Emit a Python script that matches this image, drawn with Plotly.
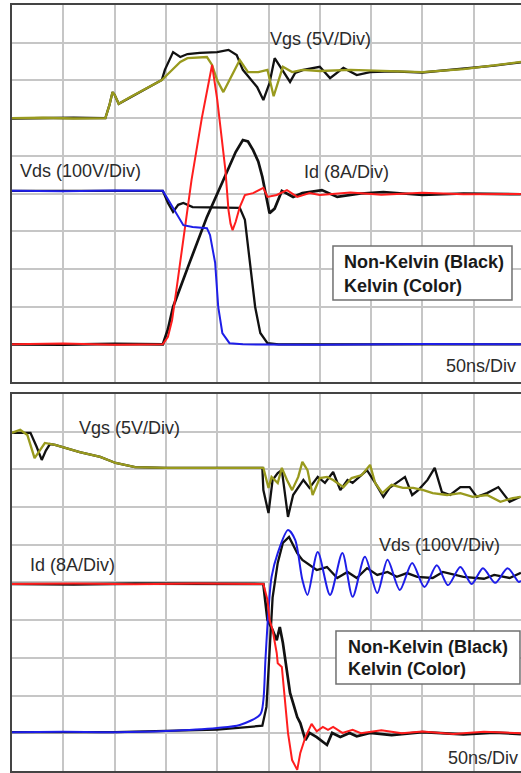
import plotly.graph_objects as go

# ---------------- data (time in ns, 50 ns/div; values in screen divisions) ----------------
# Top panel: turn-on
on_vgs_nk_t = [0, 30, 60, 91, 95, 98, 100, 104, 115, 130, 146, 149, 157, 164, 171, 183, 200, 211, 219, 225, 232, 239, 245, 251, 256, 263, 271, 276, 284, 300, 310, 323, 336, 349, 370, 400, 440, 470, 496]
on_vgs_nk = [6.99, 7.00, 7.01, 7.00, 7.35, 7.69, 7.62, 7.38, 7.55, 7.78, 8.01, 8.28, 8.75, 8.62, 8.70, 8.73, 8.75, 8.81, 8.67, 8.28, 8.05, 7.82, 7.48, 7.93, 8.59, 8.28, 7.96, 8.20, 8.28, 8.36, 8.06, 8.33, 8.14, 8.22, 8.24, 8.21, 8.31, 8.39, 8.48]

on_vgs_k_t = [0, 30, 60, 91, 95, 98, 100, 104, 115, 130, 146, 155, 164, 171, 180, 190, 195, 200, 206, 214, 222, 230, 240, 249, 255, 264, 273, 283, 300, 330, 360, 400, 440, 470, 496]
on_vgs_k = [7.00, 7.01, 6.99, 7.00, 7.35, 7.69, 7.62, 7.38, 7.55, 7.78, 8.01, 8.25, 8.49, 8.59, 8.60, 8.62, 8.41, 8.00, 7.69, 8.10, 8.54, 8.22, 8.22, 8.28, 7.58, 8.36, 8.22, 8.28, 8.25, 8.28, 8.25, 8.22, 8.30, 8.40, 8.49]

on_id_nk_t = [0, 50, 100, 147, 152, 157, 173, 190, 206, 210, 218, 225, 230, 235, 240, 244, 249, 251, 256, 263, 274, 283, 302, 317, 340, 362, 400, 440, 496]
on_id_nk = [1.0, 0.99, 1.01, 1.0, 1.4, 1.99, 3.16, 4.38, 5.36, 5.62, 6.1, 6.42, 6.38, 6.15, 5.85, 5.44, 4.69, 4.48, 4.6, 5.07, 4.91, 5.01, 5.09, 4.91, 5.0, 5.04, 4.96, 5.0, 4.98]

on_id_k_t = [0, 50, 100, 147, 152, 156, 160, 164, 171, 175, 185, 195, 200, 205, 208, 211, 213, 215, 218, 222, 227, 235, 245, 249, 258, 268, 278, 290, 300, 330, 360, 400, 440, 496]
on_id_k = [1.0, 1.02, 0.99, 1.0, 1.2, 1.64, 2.4, 3.16, 4.48, 5.36, 7.0, 8.41, 7.5, 6.4, 5.62, 4.56, 4.20, 4.03, 4.25, 4.64, 4.96, 5.01, 5.15, 4.91, 4.96, 5.09, 4.91, 5.01, 4.96, 5.03, 4.97, 5.02, 4.98, 4.99]

on_vds_nk_t = [0, 147, 152, 157, 162, 167, 176, 200, 222, 227, 232, 237, 242, 249, 260, 496]
on_vds_nk = [5.07, 5.07, 4.75, 4.51, 4.7, 4.75, 4.64, 4.64, 4.62, 4.30, 3.16, 1.99, 1.30, 1.03, 1.0, 1.0]

on_vds_k_t = [0, 50, 100, 147, 153, 159, 167, 176, 190, 193, 196, 198, 201, 205, 212, 225, 300, 400, 496]
on_vds_k = [5.07, 5.06, 5.08, 5.07, 4.8, 4.51, 4.16, 4.11, 4.08, 3.90, 3.5, 3.16, 1.99, 1.30, 1.03, 1.0, 0.99, 1.01, 1.0]

# Bottom panel: turn-off
off_vgs_nk_t = [0, 10, 18, 24, 29, 33, 37, 42, 66, 86, 101, 120, 150, 200, 244, 245, 250, 254, 259, 263, 266, 269, 274, 279, 284, 290, 298, 305, 313, 320, 327, 332, 339, 346, 354, 362, 368, 375, 383, 390, 396, 405, 412, 419, 427, 437, 446, 453, 463, 474, 485, 495]
off_vgs_nk = [8.97, 8.97, 8.97, 8.6, 8.25, 8.5, 8.67, 8.65, 8.46, 8.33, 8.17, 8.06, 8.04, 8.04, 8.04, 7.45, 6.84, 7.72, 7.90, 7.98, 7.37, 6.74, 7.32, 7.53, 7.72, 7.51, 7.80, 7.64, 7.93, 7.45, 7.72, 7.64, 7.80, 7.98, 7.64, 7.27, 7.51, 7.64, 7.80, 7.32, 7.45, 7.72, 8.04, 7.40, 7.32, 7.53, 7.53, 7.27, 7.37, 7.53, 7.14, 7.27]

off_vgs_k_t = [0, 8, 15, 22, 32, 42, 66, 86, 101, 120, 150, 200, 244, 245, 250, 253, 259, 263, 268, 273, 279, 283, 288, 293, 300, 307, 313, 323, 331, 341, 349, 354, 361, 370, 381, 391, 401, 410, 424, 437, 449, 463, 476, 488, 496]
off_vgs_k = [8.97, 9.05, 8.91, 8.30, 8.70, 8.65, 8.46, 8.33, 8.17, 8.06, 8.04, 8.04, 8.04, 8.04, 7.51, 7.80, 7.64, 8.04, 7.72, 7.45, 7.80, 8.20, 7.98, 7.32, 7.77, 7.80, 7.72, 7.53, 7.77, 7.85, 8.12, 7.64, 7.37, 7.59, 7.51, 7.51, 7.45, 7.37, 7.32, 7.37, 7.27, 7.32, 7.14, 7.24, 7.27]

off_id_nk_t = [0, 60, 120, 180, 245, 249, 254, 258, 261, 264, 268, 271, 274, 278, 281, 286, 290, 297, 307, 312, 320, 329, 336, 349, 370, 400, 440, 470, 496]
off_id_nk = [4.96, 4.95, 4.97, 4.96, 4.96, 4.01, 3.74, 3.47, 3.82, 3.40, 2.68, 2.07, 1.80, 1.43, 1.27, 0.82, 1.01, 0.90, 0.69, 1.01, 0.90, 1.01, 0.92, 1.01, 0.95, 1.03, 0.97, 1.02, 0.98]

off_id_k_t = [0, 60, 120, 180, 245, 249, 251, 254, 258, 259, 263, 266, 269, 273, 278, 281, 286, 292, 297, 303, 308, 313, 322, 332, 340, 360, 380, 400, 430, 460, 496]
off_id_k = [4.96, 4.97, 4.95, 4.97, 4.96, 4.54, 4.01, 3.74, 3.13, 2.86, 2.76, 1.88, 1.01, 0.29, 0.03, 0.48, 0.90, 1.25, 1.05, 1.17, 1.09, 1.17, 1.01, 1.09, 1.0, 1.08, 1.0, 1.05, 0.98, 1.04, 1.0]

off_vds_nk_t = [0, 100, 200, 244, 248, 250, 252, 254, 259, 264, 270, 278, 283, 290, 297, 307, 317, 327, 336, 346, 356, 366, 375, 385, 395, 410, 420, 440, 460, 470, 485, 496]
off_vds_nk = [1.03, 1.03, 1.1, 1.2, 1.7, 2.6, 3.8, 4.6, 5.52, 6.05, 6.21, 5.78, 5.60, 5.46, 5.33, 5.41, 5.12, 5.28, 5.12, 5.38, 5.20, 5.28, 5.15, 5.25, 5.15, 5.12, 5.28, 5.15, 5.10, 5.20, 5.12, 5.26]

off_vds_k_t = [0, 50, 100, 150, 200, 222, 242, 245, 247, 250, 253, 259, 269, 276, 283, 288, 298, 310, 322, 332, 344, 356, 366, 378, 390, 402, 414, 425, 437, 448, 459, 471, 483, 494, 496]
off_vds_k = [1.03, 1.04, 1.03, 1.06, 1.14, 1.22, 1.5, 1.88, 2.94, 4.27, 5.15, 5.78, 6.39, 6.13, 5.07, 4.67, 5.81, 4.67, 5.78, 4.62, 5.68, 4.72, 5.60, 4.80, 5.52, 4.88, 5.46, 4.93, 5.41, 4.96, 5.38, 4.99, 5.38, 5.01, 5.05]

# ---------------- styling ----------------
BLACK = "#111111"
OLIVE = "#999a1e"
RED = "#ff1e1e"
BLUE = "#1e1ee8"
TEXT = "#2b2b2b"
FONT = "Liberation Sans, Arial, sans-serif"

fig = go.Figure()


def add(t, v, color, axis, width=2.0, shape="linear"):
    fig.add_trace(go.Scatter(x=t, y=v, mode="lines", xaxis="x" if axis == 1 else "x2",
                             yaxis="y" if axis == 1 else "y2",
                             line=dict(color=color, width=width, shape=shape, smoothing=0.8),
                             hoverinfo="skip", showlegend=False))


# top: black first, colour on top
add(on_vgs_nk_t, on_vgs_nk, BLACK, 1, 2.3)
add(on_vds_nk_t, on_vds_nk, BLACK, 1, 2.3)
add(on_id_nk_t, on_id_nk, BLACK, 1, 2.7)
add(on_vgs_k_t, on_vgs_k, OLIVE, 1, 2.3)
add(on_id_k_t, on_id_k, RED, 1, 2.0)
add(on_vds_k_t, on_vds_k, BLUE, 1, 2.0)

# bottom
add(off_vgs_nk_t, off_vgs_nk, BLACK, 2, 2.3)
add(off_vds_nk_t, off_vds_nk, BLACK, 2, 2.3)
add(off_id_nk_t, off_id_nk, BLACK, 2, 2.7)
add(off_vgs_k_t, off_vgs_k, OLIVE, 2, 2.3)
add(off_vds_k_t, off_vds_k, BLUE, 2, 2.0, "spline")
add(off_id_k_t, off_id_k, RED, 2, 2.0)

XMAX = 496.1
axis_common = dict(showticklabels=False, ticks="", zeroline=False, showgrid=True,
                   gridcolor="#c6c6c6", gridwidth=1.5, fixedrange=True)

fig.update_layout(
    width=521, height=773,
    margin=dict(l=12, r=0, t=5, b=2),
    paper_bgcolor="white", plot_bgcolor="white",
    showlegend=False,
    xaxis=dict(domain=[0, 1], range=[0, XMAX], dtick=50, tick0=0, anchor="y",
               showline=True, mirror=True, linecolor="#444444", linewidth=2, **axis_common),
    yaxis=dict(domain=[0.5078, 1], range=[0, 10], dtick=1, tick0=0, anchor="x",
               showline=True, mirror=False, linecolor="#444444", linewidth=2, **axis_common),
    xaxis2=dict(domain=[0, 1], range=[0, XMAX], dtick=50, tick0=0, anchor="y2",
                showline=True, mirror=True, linecolor="#444444", linewidth=2, **axis_common),
    yaxis2=dict(domain=[0, 0.4922], range=[0, 10], dtick=1, tick0=0, anchor="x2",
                showline=True, mirror=False, linecolor="#444444", linewidth=2, **axis_common),
)


def label(text, x, y, xanchor="left", bold=False, size=18):
    if bold:
        text = "<b>" + text + "</b>"
    fig.add_annotation(text=text, x=x, y=y, xref="paper", yref="paper", xanchor=xanchor,
                       yanchor="middle", showarrow=False,
                       font=dict(family=FONT, size=size, color=TEXT if not bold else "#1a1a1a"))


# top panel labels
label("Vgs (5V/Div)", 0.503, 0.9556)
label("Vds (100V/Div)", 0.0118, 0.7833)
label("Id (8A/Div)", 0.5697, 0.782)
label("50ns/Div", 0.994, 0.5287, xanchor="right")
fig.add_shape(type="rect", xref="paper", yref="paper", x0=0.6306, x1=0.9823, y0=0.6149, y1=0.6854,
              line=dict(color="#707070", width=1.5), fillcolor="white", layer="above")
label("Non-Kelvin (Black)", 0.6483, 0.6645, bold=True)
label("Kelvin (Color)", 0.6483, 0.6332, bold=True)

# bottom panel labels
label("Vgs (5V/Div)", 0.1277, 0.4478)
label("Id (8A/Div)", 0.0314, 0.2689)
label("Vds (100V/Div)", 0.7171, 0.295)
label("50ns/Div", 0.998, 0.017, xanchor="right")
fig.add_shape(type="rect", xref="paper", yref="paper", x0=0.6365, x1=0.998, y0=0.1136, y1=0.1828,
              line=dict(color="#707070", width=1.5), fillcolor="white", layer="above")
label("Non-Kelvin (Black)", 0.6562, 0.1619, bold=True)
label("Kelvin (Color)", 0.6562, 0.1332, bold=True)

fig.write_html("out.html")
